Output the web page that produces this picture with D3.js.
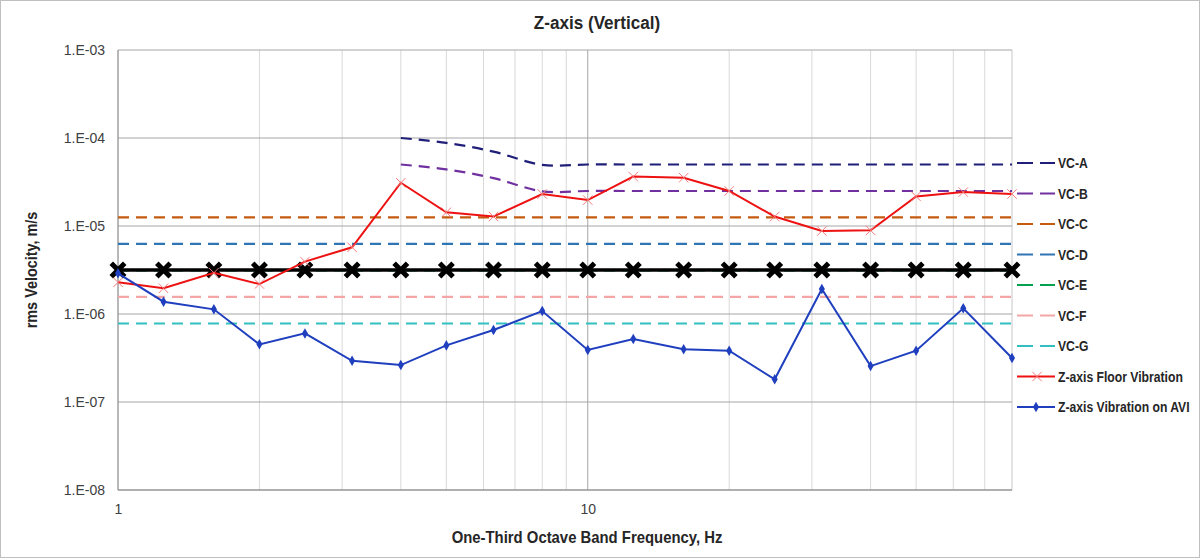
<!DOCTYPE html>
<html><head><meta charset="utf-8">
<script src="https://cdn.jsdelivr.net/npm/d3@7"></script>
<style>body{margin:0;background:#fff}svg{display:block}</style>
</head><body>
<svg id="c" width="1200" height="558"></svg>
<script>
const freqs = [1,1.25,1.6,2,2.5,3.15,4,5,6.3,8,10,12.5,16,20,25,31.5,40,50,63,80];
const vcAFreqs = [4,5,6.3,8,10,12.5,16,20,25,31.5,40,50,63,80];
const vcA = [1.0e-4,8.8e-5,7.0e-5,4.95e-5,5e-5,5e-5,5e-5,5e-5,5e-5,5e-5,5e-5,5e-5,5e-5,5e-5];
const vcB = [5.0e-5,4.4e-5,3.5e-5,2.48e-5,2.5e-5,2.5e-5,2.5e-5,2.5e-5,2.5e-5,2.5e-5,2.5e-5,2.5e-5,2.5e-5,2.5e-5];
const vcC = 1.25e-5, vcD = 6.25e-6, vcE = 3.125e-6, vcF = 1.5625e-6, vcG = 7.8e-7;
const blackRef = [3.16e-6,3.16e-6,3.16e-6,3.16e-6,3.16e-6,3.16e-6,3.16e-6,3.16e-6,3.16e-6,3.16e-6,3.16e-6,3.16e-6,3.16e-6,3.16e-6,3.16e-6,3.16e-6,3.16e-6,3.16e-6,3.16e-6,3.16e-6];
const floorVib = [2.29e-6,1.96e-6,2.94e-6,2.19e-6,3.94e-6,5.73e-6,3.10e-5,1.43e-5,1.28e-5,2.31e-5,1.97e-5,3.64e-5,3.54e-5,2.50e-5,1.28e-5,8.77e-6,8.93e-6,2.17e-5,2.43e-5,2.31e-5];
const aviVib = [2.90e-6,1.38e-6,1.13e-6,4.52e-7,6.02e-7,2.94e-7,2.63e-7,4.40e-7,6.58e-7,1.08e-6,3.90e-7,5.20e-7,3.97e-7,3.83e-7,1.81e-7,1.92e-6,2.56e-7,3.83e-7,1.16e-6,3.16e-7];
const yTickLabels = ["1.E-08","1.E-07","1.E-06","1.E-05","1.E-04","1.E-03"];
const xTickLabels = ["1","10"];
const legendNames = ["VC-A","VC-B","VC-C","VC-D","VC-E","VC-F","VC-G","Z-axis Floor Vibration","Z-axis Vibration on AVI"];
const colors = {A:"#1f1f7a",B:"#7030a0",C:"#c55a11",D:"#2e75b6",E:"#00a050",F:"#f4a6a6",G:"#33bfbf",floor:"#ee1111",avi:"#1f3fbf"};

const svg = d3.select("#c");
const L=118,R=1012,T=50,B=490;
const x = d3.scaleLog().domain([1,80]).range([L,R]);
const y = d3.scaleLog().domain([1e-8,1e-3]).range([B,T]);
const bold = "'Liberation Sans',Arial,sans-serif";

svg.append("rect").attr("x",0.5).attr("y",0.5).attr("width",1199).attr("height",557).attr("fill","#fff").attr("stroke","#bfbfbf");

// grid
const g = svg.append("g");
const minorX = [2,3,4,5,6,7,8,9,20,30,40,50,60,70];
g.selectAll(".vm").data(minorX).enter().append("line")
 .attr("x1",d=>x(d)).attr("x2",d=>x(d)).attr("y1",T).attr("y2",B).attr("stroke","#d9d9d9").attr("stroke-width",1);
g.selectAll(".vM").data([1,10,80]).enter().append("line")
 .attr("x1",d=>x(d)).attr("x2",d=>x(d)).attr("y1",T).attr("y2",B).attr("stroke",d=>d===10?"#a6a6a6":"#c8c8c8").attr("stroke-width",1);
const yTicks = [1e-8,1e-7,1e-6,1e-5,1e-4,1e-3];
g.selectAll(".h").data(yTicks).enter().append("line")
 .attr("x1",L).attr("x2",R).attr("y1",d=>y(d)).attr("y2",d=>y(d)).attr("stroke","#a6a6a6").attr("stroke-width",1);
svg.append("line").attr("x1",L).attr("x2",L).attr("y1",T).attr("y2",B).attr("stroke","#8c8c8c");
svg.append("line").attr("x1",L).attr("x2",R).attr("y1",B).attr("y2",B).attr("stroke","#8c8c8c");

// axes labels
const yAxis = d3.axisLeft(y).tickValues(yTicks).tickFormat((d,i)=>yTickLabels[i]).tickSize(0).tickPadding(13);
const ya = svg.append("g").attr("transform",`translate(${L},0)`).call(yAxis);
ya.select(".domain").remove();
ya.selectAll("text").attr("font-family","'Liberation Sans',Arial,sans-serif").attr("font-size",14).attr("fill","#404040");
const xAxis = d3.axisBottom(x).tickValues([1,10]).tickFormat((d,i)=>xTickLabels[i]).tickSize(0).tickPadding(14);
const xa = svg.append("g").attr("transform",`translate(0,${B})`).call(xAxis);
xa.select(".domain").remove();
xa.selectAll("text").attr("font-family","'Liberation Sans',Arial,sans-serif").attr("font-size",14).attr("fill","#404040");

// lines
const dash = "11,7";
const line = d3.line().x(d=>x(d[0])).y(d=>y(d[1]));
const smooth = d3.line().x(d=>x(d[0])).y(d=>y(d[1])).curve(d3.curveCatmullRom.alpha(0.5));
function flat(v){ return freqs.map(f=>[f,v]); }
const plot = svg.append("g");
plot.append("path").datum(vcAFreqs.map((f,i)=>[f,vcA[i]])).attr("d",smooth).attr("fill","none").attr("stroke",colors.A).attr("stroke-width",2.2).attr("stroke-dasharray",dash);
plot.append("path").datum(vcAFreqs.map((f,i)=>[f,vcB[i]])).attr("d",smooth).attr("fill","none").attr("stroke",colors.B).attr("stroke-width",2.2).attr("stroke-dasharray",dash);
[[vcC,colors.C],[vcD,colors.D],[vcE,colors.E],[vcF,colors.F],[vcG,colors.G]].forEach(([v,c])=>{
  plot.append("path").datum(flat(v)).attr("d",line).attr("fill","none").attr("stroke",c).attr("stroke-width",2.2).attr("stroke-dasharray",dash);
});
// black reference line
plot.append("path").datum(freqs.map((f,i)=>[f,blackRef[i]])).attr("d",line).attr("fill","none").attr("stroke","#000").attr("stroke-width",3.5);
const xSym = d3.symbol().type(d3.symbolX).size(120);
plot.selectAll(".bm").data(freqs.map((f,i)=>[f,blackRef[i]])).enter().append("path")
 .attr("d",xSym).attr("transform",d=>`translate(${x(d[0])},${y(d[1])})`).attr("stroke","#000").attr("stroke-width",5).attr("fill","none");
// floor
plot.append("path").datum(freqs.map((f,i)=>[f,floorVib[i]])).attr("d",line).attr("fill","none").attr("stroke",colors.floor).attr("stroke-width",2);
const xSmall = d3.symbol().type(d3.symbolX).size(60);
plot.selectAll(".fm").data(freqs.map((f,i)=>[f,floorVib[i]])).enter().append("path")
 .attr("d",xSmall).attr("transform",d=>`translate(${x(d[0])},${y(d[1])})`).attr("stroke","#f47c7c").attr("stroke-width",1).attr("fill","none");
// avi
plot.append("path").datum(freqs.map((f,i)=>[f,aviVib[i]])).attr("d",line).attr("fill","none").attr("stroke",colors.avi).attr("stroke-width",2);
const dia = d3.symbol().type(d3.symbolDiamond).size(32);
plot.selectAll(".am").data(freqs.map((f,i)=>[f,aviVib[i]])).enter().append("path")
 .attr("d",dia).attr("transform",d=>`translate(${x(d[0])},${y(d[1])})`).attr("fill",colors.avi);

// legend
const lg = svg.append("g");
const legColors = [colors.A,colors.B,colors.C,colors.D,colors.E,colors.F,colors.G,colors.floor,colors.avi];
legendNames.forEach((n,i)=>{
  const yy = 163 + i*30.5;
  const row = lg.append("g").attr("transform",`translate(0,${yy})`);
  if(i<7){
    row.append("line").attr("x1",1017).attr("x2",1055).attr("y1",0).attr("y2",0).attr("stroke",legColors[i]).attr("stroke-width",2.2).attr("stroke-dasharray","16,7");
  } else {
    row.append("line").attr("x1",1017).attr("x2",1055).attr("y1",0).attr("y2",0).attr("stroke",legColors[i]).attr("stroke-width",2);
    if(i===7) row.append("path").attr("d",xSmall).attr("transform","translate(1037,0)").attr("stroke","#f47c7c").attr("stroke-width",1).attr("fill","none");
    else row.append("path").attr("d",dia).attr("transform","translate(1036,0)").attr("fill",colors.avi);
  }
  row.append("text").attr("transform","translate(1058,0) scale(0.87,1)").attr("dy","0.36em").text(n)
   .attr("font-family",bold).attr("font-weight","bold").attr("font-size",14).attr("fill","#262626");
});

// titles
svg.append("text").attr("transform","translate(597,29) scale(0.9,1)").attr("text-anchor","middle").text("Z-axis (Vertical)")
 .attr("font-family",bold).attr("font-weight","bold").attr("font-size",19).attr("fill","#262626");
svg.append("text").attr("transform","translate(587,543) scale(0.93,1)").attr("text-anchor","middle").text("One-Third Octave Band Frequency, Hz")
 .attr("font-family",bold).attr("font-weight","bold").attr("font-size",16).attr("fill","#262626");
svg.append("text").attr("transform","translate(37,270) rotate(-90) scale(0.9,1)").attr("text-anchor","middle").text("rms Velocity, m/s")
 .attr("font-family",bold).attr("font-weight","bold").attr("font-size",16).attr("fill","#262626");
</script>
</body></html>
